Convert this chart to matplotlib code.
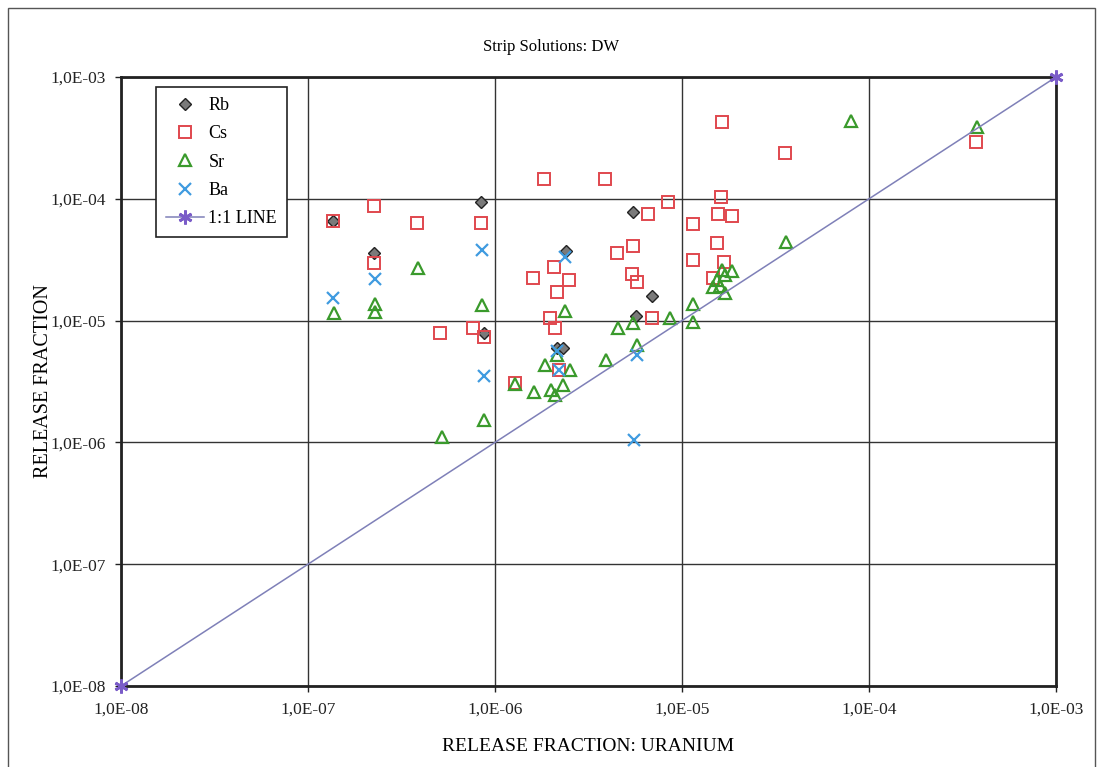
import matplotlib.pyplot as plt
import numpy as np
from matplotlib.patches import Rectangle
from matplotlib.ticker import FuncFormatter, LogLocator, NullLocator

# Release fractions (x = uranium, y = element), strip solutions DW
rb_x = [1.36e-7, 2.25e-7, 8.4e-7, 8.7e-7, 5.5e-6, 2.4e-6, 6.9e-6, 5.7e-6, 2.15e-6, 2.3e-6]
rb_y = [6.6e-5, 3.6e-5, 9.4e-5, 7.9e-6, 7.8e-5, 3.7e-5, 1.6e-5, 1.1e-5, 6.0e-6, 6.0e-6]

cs_x = [1.36e-7, 2.25e-7, 3.83e-7, 8.4e-7, 2.25e-7, 5.08e-7, 7.6e-7, 8.7e-7, 1.28e-6,
        1.64e-5, 1.83e-6, 3.87e-6, 8.4e-6, 6.6e-6, 1.62e-5, 1.56e-5, 1.85e-5, 1.15e-5,
        1.54e-5, 1.15e-5, 1.68e-5, 1.47e-5, 5.47e-6, 4.49e-6, 5.4e-6, 5.74e-6, 6.9e-6,
        2.07e-6, 2.49e-6, 1.6e-6, 2.15e-6, 1.97e-6, 2.09e-6, 2.2e-6, 3.56e-5, 3.73e-4]
cs_y = [6.6e-5, 8.7e-5, 6.3e-5, 6.3e-5, 2.97e-5, 7.9e-6, 8.7e-6, 7.3e-6, 3.08e-6,
        4.27e-4, 1.45e-4, 1.45e-4, 9.4e-5, 7.5e-5, 1.03e-4, 7.5e-5, 7.2e-5, 6.2e-5,
        4.34e-5, 3.15e-5, 3.03e-5, 2.24e-5, 4.1e-5, 3.6e-5, 2.41e-5, 2.08e-5, 1.05e-5,
        2.75e-5, 2.16e-5, 2.24e-5, 1.72e-5, 1.05e-5, 8.7e-6, 3.93e-6, 2.38e-4, 2.93e-4]

sr_x = [1.38e-7, 2.27e-7, 2.27e-7, 3.87e-7, 8.5e-7, 8.7e-7, 5.2e-7, 1.28e-6, 2.37e-6,
        1.85e-6, 2.15e-6, 2.52e-6, 1.62e-6, 1.99e-6, 2.09e-6, 2.31e-6, 3.92e-6, 4.55e-6,
        5.47e-6, 5.74e-6, 8.6e-6, 1.15e-5, 1.15e-5, 1.85e-5, 1.64e-5, 1.70e-5, 1.54e-5,
        1.47e-5, 1.6e-5, 1.70e-5, 8.0e-5, 3.78e-4, 3.6e-5]
sr_y = [1.15e-5, 1.37e-5, 1.18e-5, 2.7e-5, 1.34e-5, 1.53e-6, 1.11e-6, 3.0e-6, 1.2e-5,
        4.3e-6, 5.2e-6, 3.93e-6, 2.6e-6, 2.69e-6, 2.45e-6, 2.96e-6, 4.75e-6, 8.7e-6,
        9.5e-6, 6.3e-6, 1.05e-5, 1.37e-5, 9.7e-6, 2.55e-5, 2.6e-5, 2.37e-5, 2.16e-5,
        1.89e-5, 1.92e-5, 1.69e-5, 4.35e-4, 3.89e-4, 4.42e-5]

ba_x = [1.36e-7, 2.27e-7, 8.5e-7, 8.7e-7, 2.37e-6, 5.74e-6, 5.54e-6, 2.15e-6, 2.2e-6]
ba_y = [1.53e-5, 2.2e-5, 3.8e-5, 3.5e-6, 3.33e-5, 5.2e-6, 1.05e-6, 5.6e-6, 3.93e-6]

line_x = [1e-8, 1e-3]
line_y = [1e-8, 1e-3]

serif = ['Liberation Serif', 'DejaVu Serif']
plt.rcParams['font.family'] = serif

fig = plt.figure(figsize=(10.99, 7.67), dpi=100)
ax = fig.add_axes([0.1101, 0.1056, 0.8508, 0.7940])

ax.plot(rb_x, rb_y, ls='none', marker='D', ms=6.5, mfc='#7a7a7a', mec='#222222',
        mew=1.0, label='Rb', zorder=3)
ax.plot(cs_x, cs_y, ls='none', marker='s', ms=8, mfc='none', mec='#e0484e',
        mew=1.4, label='Cs', zorder=3)
ax.plot(sr_x, sr_y, ls='none', marker='^', ms=8, mfc='none', mec='#3a9a2c',
        mew=1.6, label='Sr', zorder=3)
ax.plot(ba_x, ba_y, ls='none', marker='x', ms=8, mec='#3f9be0',
        mew=1.6, label='Ba', zorder=3)
ax.plot(line_x, line_y, color='#7f80b8', lw=1.1, marker=(6, 2, 0), ms=10,
        mec='#7a5cc8', mew=2.0, label='1:1 LINE', zorder=4, clip_on=False)

ax.set_xscale('log')
ax.set_yscale('log')
ax.set_xlim(1e-8, 1e-3)
ax.set_ylim(1e-8, 1e-3)

fmt = FuncFormatter(lambda v, p: ('%.1E' % v).replace('.', ','))
for axis in (ax.xaxis, ax.yaxis):
    axis.set_major_locator(LogLocator(base=10, numticks=10))
    axis.set_minor_locator(NullLocator())
    axis.set_major_formatter(fmt)

ax.grid(True, which='major', color='#333333', lw=1.0)
ax.set_axisbelow(True)
ax.tick_params(which='major', length=4, width=1, direction='out', pad=7,
               labelsize=12.5, colors='#222222')
for s in ax.spines.values():
    s.set_linewidth(2.0)
    s.set_color('#222222')

fig.text(551 / 1099, 1 - 47 / 767, 'Strip Solutions: DW', fontsize=12,
         ha='center', va='center')
ax.set_xlabel('RELEASE FRACTION: URANIUM', fontsize=14, labelpad=15)
ax.set_ylabel('RELEASE FRACTION', fontsize=14.5, labelpad=-2)

leg = ax.legend(loc='upper left', bbox_to_anchor=(0.0374, 0.983), fontsize=13,
                frameon=True, fancybox=False, edgecolor='#222222', framealpha=1,
                labelspacing=0.62, handlelength=2.1, handletextpad=0.25,
                borderpad=0.55, borderaxespad=0)
leg.get_frame().set_linewidth(1.2)

# thin border around the whole figure
fig.patches.append(Rectangle((8 / 1099, -0.01), 1087 / 1099, 1.0,
                             transform=fig.transFigure, fill=False,
                             edgecolor='#555555', lw=1.0))

fig.savefig('out.png', dpi=100)
